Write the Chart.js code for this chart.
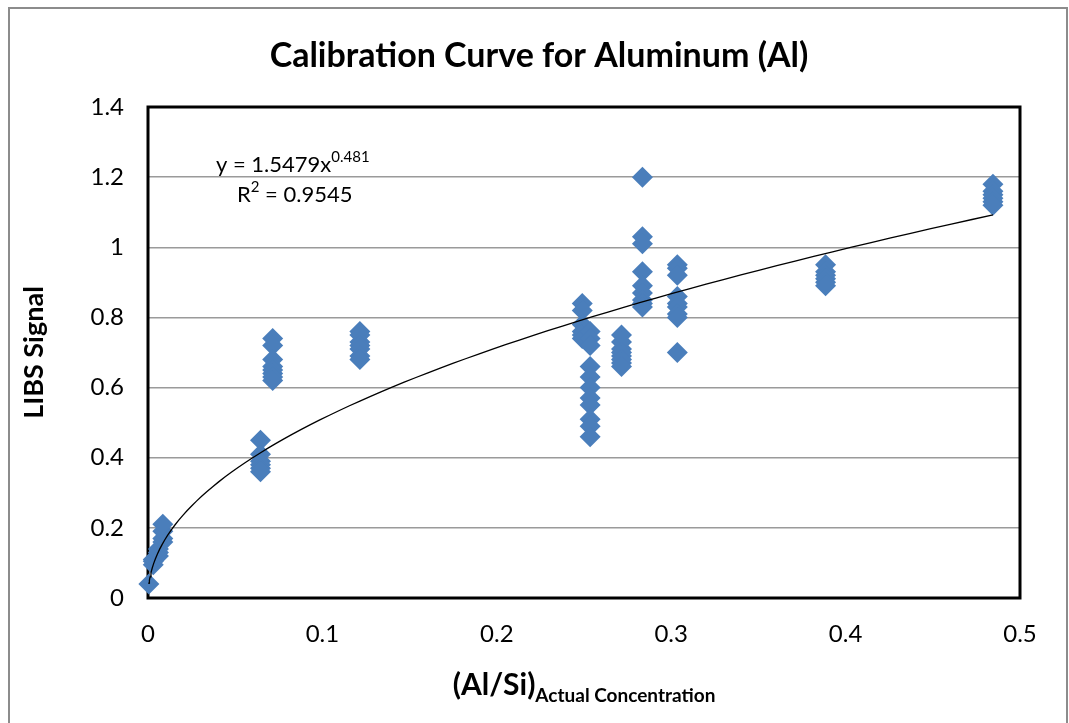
<!DOCTYPE html>
<html>
<head>
<meta charset="utf-8">
<script src="https://cdn.jsdelivr.net/npm/chart.js@4.4.0/dist/chart.umd.min.js"></script>
<style>
  html, body { margin: 0; padding: 0; background: #fff; }
  #wrap { width: 1069px; height: 723px; }
</style>
</head>
<body>
<div id="wrap"><canvas id="chart" width="1069" height="723"></canvas></div>
<script>
// Al/Si actual concentration for each group of shots, and the LIBS signals measured there
const concentrations = [0.0005, 0.003, 0.006, 0.0085, 0.0645, 0.0715, 0.1215, 0.249, 0.2535, 0.2715, 0.2835, 0.3035, 0.3885, 0.4845];
const signals = [
  [0.04],
  [0.095, 0.105, 0.11],
  [0.12, 0.13, 0.14],
  [0.16, 0.17, 0.19, 0.21],
  [0.45, 0.41, 0.39, 0.38, 0.37, 0.36],
  [0.74, 0.72, 0.68, 0.66, 0.65, 0.64, 0.63, 0.62],
  [0.76, 0.75, 0.73, 0.72, 0.71, 0.69, 0.68],
  [0.84, 0.82, 0.78, 0.76, 0.75, 0.74],
  [0.76, 0.74, 0.72, 0.66, 0.63, 0.60, 0.57, 0.55, 0.51, 0.49, 0.46],
  [0.75, 0.73, 0.71, 0.70, 0.69, 0.68, 0.67, 0.66],
  [1.20, 1.03, 1.01, 0.93, 0.89, 0.87, 0.85, 0.84, 0.83],
  [0.95, 0.94, 0.92, 0.86, 0.84, 0.83, 0.81, 0.80, 0.70],
  [0.95, 0.93, 0.92, 0.91, 0.90, 0.89],
  [1.18, 1.16, 1.15, 1.14, 1.13, 1.12]
];
const xTicks = [0, 0.1, 0.2, 0.3, 0.4, 0.5];
const yTicks = [0, 0.2, 0.4, 0.6, 0.8, 1, 1.2, 1.4];

// power trendline as printed on the chart: y = a * x^b
const trendA = 1.5479;
const trendB = 0.481;
const trendR2 = 0.9545;

const FONT = 'Lato, "Open Sans", sans-serif';
const BLUE = '#4a7ebb';

const points = [];
concentrations.forEach((c, i) => signals[i].forEach(s => points.push({ x: c, y: s })));

const xMin = Math.min(...concentrations);
const xMax = Math.max(...concentrations);
const trend = [];
for (let i = 0; i <= 80; i++) {
  const x = xMin + (xMax - xMin) * Math.pow(i / 80, 2);
  trend.push({ x: x, y: trendA * Math.pow(x, trendB) });
}

const frame = {
  id: 'frame',
  beforeDraw(chart) {
    const ctx = chart.ctx;
    ctx.save();
    ctx.fillStyle = '#fff';
    ctx.fillRect(0, 0, chart.width, chart.height);
    ctx.strokeStyle = '#8c8c8c';
    ctx.lineWidth = 2;
    ctx.strokeRect(9, 8, 1058, 740);
    ctx.restore();
  },
  beforeDatasetsDraw(chart) {
    const a = chart.chartArea, ctx = chart.ctx;
    ctx.save();
    ctx.strokeStyle = '#000';
    ctx.lineWidth = 3;
    ctx.strokeRect(a.left, a.top, a.right - a.left, a.bottom - a.top);
    ctx.restore();
  },
  afterDraw(chart) {
    const ctx = chart.ctx;
    ctx.save();
    ctx.fillStyle = '#000';
    ctx.textBaseline = 'alphabetic';

    // title
    ctx.textAlign = 'center';
    ctx.font = 'bold 34px ' + FONT;
    ctx.fillText('Calibration Curve for Aluminum (Al)', 539, 67);

    // x axis title with subscript
    ctx.textAlign = 'left';
    const main = '(Al/Si)', sub = 'Actual Concentration';
    ctx.font = 'bold 30px ' + FONT;
    const w1 = ctx.measureText(main).width;
    ctx.font = 'bold 19px ' + FONT;
    const w2 = ctx.measureText(sub).width;
    const x0 = 584 - (w1 + w2) / 2;
    ctx.font = 'bold 30px ' + FONT;
    ctx.fillText(main, x0, 695);
    ctx.font = 'bold 19px ' + FONT;
    ctx.fillText(sub, x0 + w1, 702);

    // trendline equation
    const eq = 'y = ' + trendA + 'x';
    ctx.font = '22px ' + FONT;
    ctx.fillText(eq, 216, 172);
    const we = ctx.measureText(eq).width;
    ctx.font = '15px ' + FONT;
    ctx.fillText(String(trendB), 216 + we, 162);
    ctx.font = '22px ' + FONT;
    ctx.fillText('R', 237, 202);
    const wr = ctx.measureText('R').width;
    ctx.font = '15px ' + FONT;
    ctx.fillText('2', 237 + wr, 192);
    const w2s = ctx.measureText('2').width;
    ctx.font = '22px ' + FONT;
    ctx.fillText(' = ' + trendR2, 237 + wr + w2s, 202);
    ctx.restore();
  }
};

new Chart(document.getElementById('chart'), {
  type: 'scatter',
  data: {
    datasets: [
      {
        type: 'line',
        data: trend,
        borderColor: '#000',
        borderWidth: 1.3,
        pointRadius: 0,
        fill: false,
        tension: 0,
        order: 0
      },
      {
        data: points,
        pointStyle: 'rectRot',
        pointRadius: 10.5,
        backgroundColor: BLUE,
        borderColor: BLUE,
        borderWidth: 0,
        clip: false,
        order: 1
      }
    ]
  },
  plugins: [frame],
  options: {
    responsive: false,
    animation: false,
    layout: { padding: { top: 107, right: 49, bottom: 0, left: 0 } },
    plugins: { legend: { display: false }, title: { display: false }, tooltip: { enabled: false } },
    scales: {
      x: {
        type: 'linear',
        min: 0, max: 0.5,
        afterFit(s) { s.height = 125; },
        afterBuildTicks(s) { s.ticks = xTicks.map(v => ({ value: v })); },
        grid: { display: false, drawTicks: false },
        border: { display: false },
        ticks: { padding: 22, color: '#000', font: { family: FONT, size: 24 }, callback: v => String(v) }
      },
      y: {
        min: 0, max: 1.4,
        afterFit(s) { s.width = 148; },
        afterBuildTicks(s) { s.ticks = yTicks.map(v => ({ value: v })); },
        grid: { color: '#9a9a9a', lineWidth: 1.5, drawTicks: false },
        border: { display: false },
        ticks: { padding: 24, color: '#000', font: { family: FONT, size: 24 }, callback: v => String(Math.round(v * 10) / 10) },
        title: { display: true, text: 'LIBS Signal', color: '#000', font: { family: FONT, size: 27, weight: 'bold' }, padding: { top: 18, bottom: 0 } }
      }
    }
  }
});
</script>
</body>
</html>
